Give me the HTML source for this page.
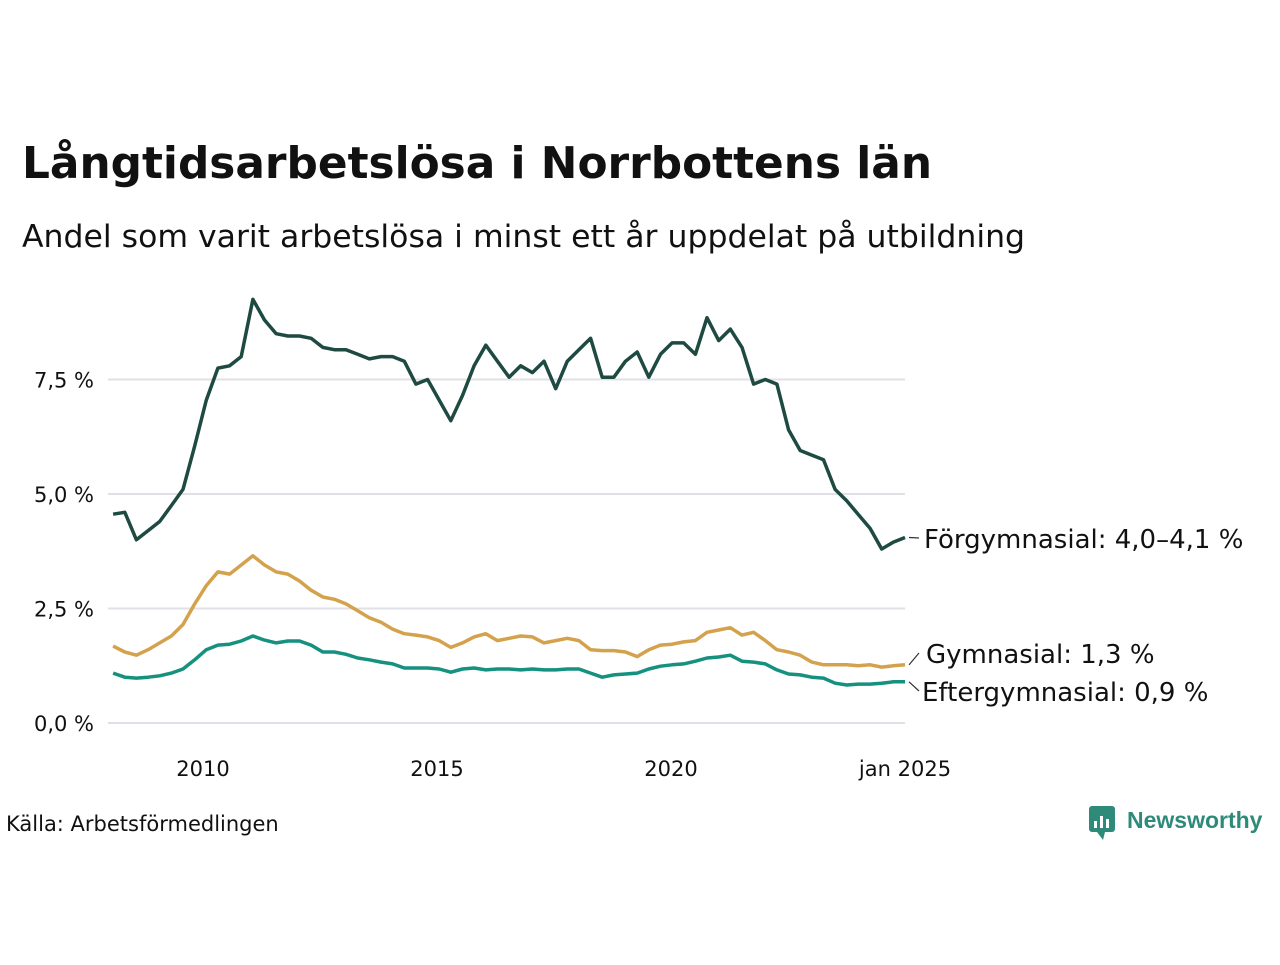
<!DOCTYPE html>
<html><head><meta charset="utf-8">
<style>
body{margin:0;background:#fff;width:1280px;height:960px;overflow:hidden;font-family:"Liberation Sans","DejaVu Sans",sans-serif;}
</style></head>
<body>
<svg width="1280" height="960" xmlns="http://www.w3.org/2000/svg" id="chart">
<text x="22" y="178" font-size="43.8" font-weight="bold" fill="#111" font-family="DejaVu Sans, sans-serif">Långtidsarbetslösa i Norrbottens län</text>
<text x="22" y="247" font-size="31.5" fill="#111" font-family="DejaVu Sans, sans-serif">Andel som varit arbetslösa i minst ett år uppdelat på utbildning</text>
<g id="grid"></g><g id="lines"></g><g id="labels"></g>
<text x="6" y="831" font-size="21" fill="#111" font-family="DejaVu Sans, sans-serif">Källa: Arbetsförmedlingen</text>
<g>
<rect x="1089" y="806" width="26" height="26" rx="3" fill="#2e8b7a"/>
<polygon points="1097,832 1103,840 1105,832" fill="#2e8b7a"/>
<rect x="1094" y="821" width="3" height="7" fill="#fff"/><rect x="1100" y="816" width="3" height="12" fill="#fff"/><rect x="1106" y="819" width="3" height="9" fill="#fff"/>
<text x="1127" y="828" font-size="23" font-weight="bold" fill="#2e8b7a">Newsworthy</text>
</g>
</svg>
<script>
const forgym=[4.56,4.6,4.0,4.2,4.4,4.75,5.1,6.05,7.05,7.75,7.8,8.0,9.25,8.8,8.5,8.45,8.45,8.4,8.2,8.15,8.15,8.05,7.95,8.0,8.0,7.9,7.4,7.5,7.05,6.6,7.15,7.8,8.25,7.9,7.55,7.8,7.65,7.9,7.3,7.9,8.15,8.4,7.55,7.55,7.9,8.1,7.55,8.05,8.3,8.3,8.05,8.85,8.35,8.6,8.2,7.4,7.5,7.4,6.4,5.95,5.85,5.75,5.1,4.85,4.55,4.25,3.8,3.95,4.05];
const gym=[1.68,1.55,1.48,1.6,1.75,1.9,2.15,2.6,3.0,3.3,3.25,3.45,3.65,3.45,3.3,3.25,3.1,2.9,2.75,2.7,2.6,2.45,2.3,2.2,2.05,1.95,1.92,1.88,1.8,1.65,1.75,1.88,1.95,1.8,1.85,1.9,1.88,1.75,1.8,1.85,1.8,1.6,1.58,1.58,1.55,1.45,1.6,1.7,1.72,1.77,1.8,1.98,2.03,2.08,1.92,1.98,1.8,1.6,1.55,1.48,1.33,1.27,1.27,1.27,1.25,1.27,1.22,1.25,1.27];
const eftergym=[1.09,1.0,0.98,1.0,1.03,1.09,1.18,1.38,1.6,1.7,1.72,1.79,1.9,1.81,1.75,1.79,1.79,1.7,1.55,1.55,1.5,1.42,1.38,1.33,1.29,1.2,1.2,1.2,1.18,1.11,1.18,1.2,1.16,1.18,1.18,1.16,1.18,1.16,1.16,1.18,1.18,1.09,1.0,1.05,1.07,1.09,1.18,1.24,1.27,1.29,1.35,1.42,1.44,1.48,1.35,1.33,1.29,1.16,1.07,1.05,1.0,0.98,0.87,0.83,0.85,0.85,0.87,0.9,0.9];
const yTicks=[0,2.5,5,7.5];
const yTickLabels=["0,0 %","2,5 %","5,0 %","7,5 %"];
const xTicks=[2010,2015,2020,2025];
const xTickLabels=["2010","2015","2020","jan 2025"];
const seriesNames=["Förgymnasial: 4,0–4,1 %","Gymnasial: 1,3 %","Eftergymnasial: 0,9 %"];
const startYear=2008.08, endYear=2025.0;
const NS="http://www.w3.org/2000/svg";
function xs(yr){return 203+(yr-2010)*46.8;}
function ys(v){return 723-v*45.8;}
function mk(tag,attrs,parent){const e=document.createElementNS(NS,tag);for(const k in attrs)e.setAttribute(k,attrs[k]);parent.appendChild(e);return e;}
const grid=document.getElementById('grid'),lines=document.getElementById('lines'),labels=document.getElementById('labels');
yTicks.forEach((t,i)=>{
  const l=mk('line',{x1:108,x2:905,y1:ys(t),y2:ys(t),stroke:'#e0e0e6','stroke-width':2},grid);
  
  
  const tx=mk('text',{x:94,y:ys(t)+8,'font-size':21,fill:'#111','text-anchor':'end','font-family':'DejaVu Sans, sans-serif'},labels);
  tx.textContent=yTickLabels[i];
  
  
});
xTicks.forEach((t,i)=>{
  const tx=mk('text',{x:xs(t),y:776,'font-size':21,fill:'#111','text-anchor':'middle','font-family':'DejaVu Sans, sans-serif'},labels);
  tx.textContent=xTickLabels[i];
  
  
});
function draw(arr,color,name){
  const step=(endYear-startYear)/(arr.length-1);
  const d=arr.map((v,i)=>(i?'L':'M')+xs(startYear+i*step).toFixed(1)+' '+ys(v).toFixed(1)).join(' ');
  const p=mk('path',{d:d,fill:'none',stroke:color,'stroke-width':3.5,'stroke-linejoin':'round'},lines);
  
  
}
draw(gym,'#d4a24c','line-gymnasial');
draw(eftergym,'#16917f','line-eftergymnasial');
draw(forgym,'#1e4a42','line-forgymnasial');
const lastF=ys(forgym[forgym.length-1]),lastG=ys(gym[gym.length-1]),lastE=ys(eftergym[eftergym.length-1]);
const labY=[539,654,692],ends=[lastF,lastG,lastE],labX=[924,926,922];
seriesNames.forEach((n,i)=>{
  mk('line',{x1:909,y1:ends[i],x2:919,y2:labY[i]-1,stroke:'#333','stroke-width':1.2},labels);
  const tx=mk('text',{x:labX[i],y:labY[i]+9,'font-size':26,fill:'#111','font-family':'DejaVu Sans, sans-serif'},labels);
  tx.textContent=n;
  
  
});
</script>
</body></html>
